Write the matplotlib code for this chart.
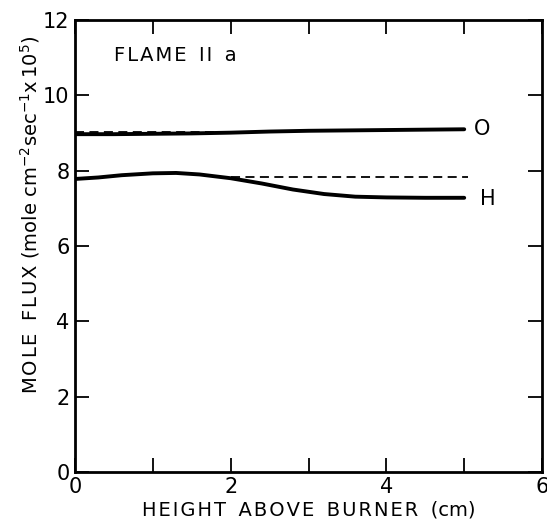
import numpy as np
import matplotlib.pyplot as plt

# O curve (solid) and its dashed reference
o_x = [0.0, 0.5, 1.0, 1.5, 2.0, 2.5, 3.0, 3.5, 4.0, 4.5, 5.0]
o_y = [8.97, 8.97, 8.98, 8.99, 9.01, 9.04, 9.06, 9.07, 9.08, 9.09, 9.10]
o_dash_x = [0.0, 2.0]
o_dash_y = [9.02, 9.02]

# H curve (solid) and its dashed reference
h_x = [0.0, 0.3, 0.6, 1.0, 1.3, 1.6, 2.0, 2.4, 2.8, 3.2, 3.6, 4.0, 4.5, 5.0]
h_y = [7.78, 7.82, 7.88, 7.93, 7.94, 7.90, 7.80, 7.66, 7.50, 7.38, 7.31, 7.29, 7.28, 7.28]
h_dash_x = [2.0, 5.05]
h_dash_y = [7.84, 7.84]


def spaced(s, gap='  '):
    # hair space between letters, wider gap between words
    return gap.join('\u200a'.join(w) for w in s.split(' '))


plt.rcParams['font.family'] = ['DejaVu Sans']

fig = plt.figure(figsize=(5.47, 5.29), dpi=100)
ax = fig.add_axes([0.137, 0.108, 0.854, 0.854])

ax.plot(o_x, o_y, color='black', lw=2.8, solid_capstyle='round')
ax.plot(o_dash_x, o_dash_y, color='black', lw=1.3, ls=(0, (5, 3)))
ax.plot(h_x, h_y, color='black', lw=2.8, solid_capstyle='round')
ax.plot(h_dash_x, h_dash_y, color='black', lw=1.3, ls=(0, (5, 3)))

ax.text(5.13, 9.12, 'O', fontsize=15, va='center', ha='left')
ax.text(5.2, 7.25, 'H', fontsize=15, va='center', ha='left')
ax.text(0.5, 11.07, spaced('FLAME II a'), fontsize=14, va='center', ha='left')

ax.set_xlim(0, 6)
ax.set_ylim(0, 12)
ax.set_xticks([0, 1, 2, 3, 4, 5, 6])
ax.set_xticklabels(['0', '', '2', '', '4', '', '6'])
ax.set_yticks([0, 2, 4, 6, 8, 10, 12])
ax.tick_params(direction='in', length=10, width=1.3, top=True, right=True,
               labelsize=15, pad=4)
for s in ax.spines.values():
    s.set_linewidth(2)

ax.set_xlabel(spaced('HEIGHT ABOVE BURNER') + '  (cm)', fontsize=14, labelpad=2)
ax.set_ylabel(spaced('MOLE FLUX') + r' (mole cm$^{-2}$sec$^{-1}$x$\,$10$^5$)',
              fontsize=14)
ax.yaxis.set_label_coords(-0.07, 0.57)

fig.savefig('out.png', dpi=100)
